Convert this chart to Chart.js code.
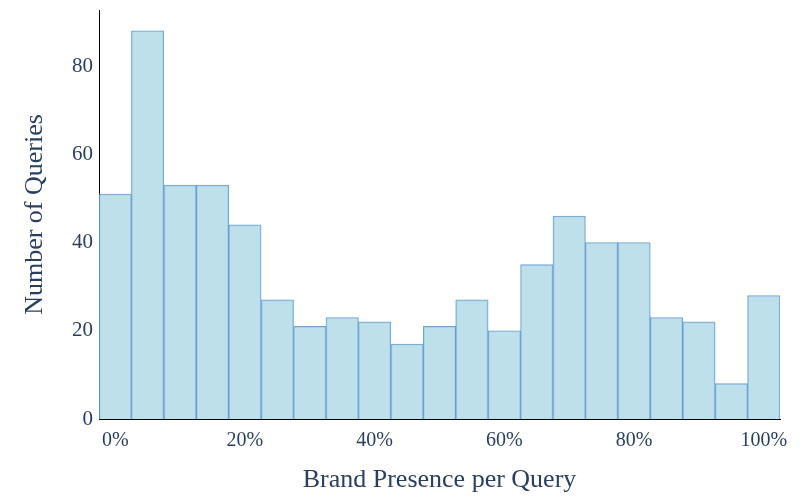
<!DOCTYPE html>
<html>
<head>
<meta charset="utf-8">
<script src="https://cdn.jsdelivr.net/npm/chart.js@4"></script>
<style>
  html, body { margin: 0; padding: 0; background: #fff; }
  #wrap { width: 800px; height: 500px; }
</style>
</head>
<body>
<div id="wrap"><canvas id="canvas" width="800" height="500"></canvas></div>
<script>
// ブランド出現率のヒストグラム
var binCenters = [0, 5, 10, 15, 20, 25, 30, 35, 40, 45, 50,
                  55, 60, 65, 70, 75, 80, 85, 90, 95, 100];
var queryCounts = [51, 88, 53, 53, 44, 27, 21, 23, 22, 17, 21,
                   27, 20, 35, 46, 40, 40, 23, 22, 8, 28];
var xTicks = [0, 20, 40, 60, 80, 100];
var yTicks = [0, 20, 40, 60, 80];

var textColor = '#2a3f5f';
var serif = '"Liberation Serif", "Times New Roman", serif';

var points = binCenters.map(function (c, i) {
  return { x: c, y: queryCounts[i] };
});

var ctx = document.getElementById('canvas').getContext('2d');
var chart = new Chart(ctx, {
  type: 'bar',
  data: {
    datasets: [{
      data: points,
      backgroundColor: 'rgba(173,216,230,0.8)',
      borderColor: 'rgba(80,140,200,0.8)',
      borderWidth: 1,
      barPercentage: 1,
      categoryPercentage: 1
    }]
  },
  options: {
    responsive: false,
    animation: false,
    layout: { padding: { top: 10, right: 20, left: 0, bottom: 0 } },
    plugins: { legend: { display: false }, tooltip: { enabled: false } },
    scales: {
      x: {
        type: 'linear',
        offset: false,
        min: -2.5,
        max: 102.5,
        grid: { display: false, drawTicks: false },
        border: { display: true, color: '#000', width: 1 },
        afterBuildTicks: function (axis) {
          axis.ticks = xTicks.map(function (v) { return { value: v }; });
        },
        afterFit: function (axis) {
          axis.height = 81;
          axis.paddingLeft = 0;
          axis.paddingRight = 0;
        },
        ticks: {
          color: textColor,
          font: { family: serif, size: 20 },
          padding: 10,
          maxRotation: 0,
          callback: function (v) { return v + '%'; }
        },
        title: {
          display: true,
          text: 'Brand Presence per Query',
          color: textColor,
          font: { family: serif, size: 26 },
          padding: { top: 10 }
        }
      },
      y: {
        min: 0,
        max: 92.7,
        grid: { display: false, drawTicks: false },
        border: { display: true, color: '#000', width: 1 },
        afterBuildTicks: function (axis) {
          axis.ticks = yTicks.map(function (v) { return { value: v }; });
        },
        afterFit: function (axis) {
          axis.width = 99;
          axis.paddingTop = 0;
          axis.paddingBottom = 0;
        },
        ticks: {
          color: textColor,
          font: { family: serif, size: 21 },
          padding: 6
        },
        title: {
          display: true,
          text: 'Number of Queries',
          color: textColor,
          font: { family: serif, size: 26 },
          padding: { top: 20, bottom: 0 }
        }
      }
    }
  }
});
</script>
</body>
</html>
